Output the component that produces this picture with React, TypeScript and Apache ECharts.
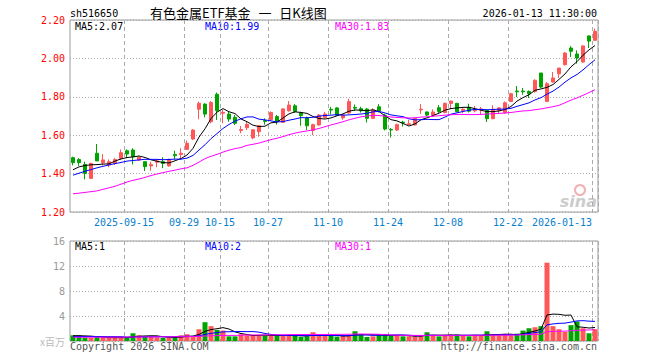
import React, { useEffect, useRef } from 'react';
import * as echarts from 'echarts';

// ---------- categories (trading days) ----------
const sep25 = ['02','03','04','05','08','09','10','11','12','15','16','17','18','19','22','23','24','25','26','29','30'];
const oct25 = ['09','10','13','14','15','16','17','20','21','22','23','24','27','28','29','30','31'];
const nov25 = ['03','04','05','06','07','10','11','12','13','14','17','18','19','20','21','24','25','26','27','28'];
const dec25 = ['01','02','03','04','05','08','09','10','11','12','15','16','17','18','19','22','23','24','25','26','29','30','31'];
const jan26 = ['05','06','07','08','09','12','13'];
const dates: string[] = [
  ...sep25.map((d) => '2025-09-' + d),
  ...oct25.map((d) => '2025-10-' + d),
  ...nov25.map((d) => '2025-11-' + d),
  ...dec25.map((d) => '2025-12-' + d),
  ...jan26.map((d) => '2026-01-' + d),
];

// ---------- tick labels ----------
const tickDates = ['2025-09-15','2025-09-29','2025-10-15','2025-10-27','2025-11-10','2025-11-24','2025-12-08','2025-12-22','2026-01-13'];
const tickLabels = ['2025-09-15','09-29','10-15','10-27','11-10','11-24','12-08','12-22','2026-01-13'];
const priceTicks = [1.2, 1.4, 1.6, 1.8, 2.0, 2.2];
const volTicks = [0, 4, 8, 12, 16];

// ---------- candles ----------
const opens = [
  1.483,1.473,1.448,1.375,1.506,1.457,1.445,1.453,1.480,1.519,
  1.523,1.471,1.462,1.440,1.459,1.462,1.440,1.500,1.499,1.526,
  1.580,1.735,1.762,1.670,1.813,1.714,1.710,1.693,1.625,1.639,
  1.586,1.618,1.676,1.681,1.697,1.667,1.727,1.753,1.716,1.690,
  1.625,1.653,1.692,1.735,1.742,1.690,1.716,1.745,1.738,1.736,
  1.688,1.748,1.704,1.630,1.627,1.668,1.656,1.653,1.732,1.721,
  1.705,1.743,1.718,1.765,1.766,1.728,1.745,1.727,1.733,1.729,
  1.686,1.729,1.717,1.776,1.830,1.830,1.828,1.828,1.924,1.776,
  1.877,1.920,1.967,2.054,2.023,1.981,2.117,2.094,
];
const closes = [
  1.457,1.457,1.401,1.453,1.466,1.471,1.462,1.474,1.509,1.502,
  1.488,1.485,1.436,1.448,1.466,1.453,1.474,1.493,1.506,1.558,
  1.627,1.766,1.710,1.770,1.728,1.719,1.684,1.662,1.630,1.656,
  1.628,1.649,1.672,1.718,1.672,1.737,1.757,1.724,1.702,1.649,
  1.655,1.705,1.710,1.731,1.704,1.705,1.775,1.741,1.727,1.688,
  1.731,1.727,1.632,1.627,1.655,1.664,1.660,1.688,1.736,1.705,
  1.721,1.724,1.766,1.778,1.722,1.735,1.725,1.731,1.737,1.686,
  1.735,1.742,1.769,1.816,1.826,1.826,1.816,1.886,1.851,1.868,
  1.898,1.950,2.028,2.037,2.002,2.065,2.090,2.141,
];
const lows = [
  1.443,1.440,1.370,1.372,1.466,1.443,1.433,1.445,1.471,1.480,
  1.448,1.467,1.413,1.415,1.433,1.428,1.436,1.474,1.474,1.523,
  1.575,1.683,1.693,1.662,1.679,1.662,1.670,1.653,1.610,1.627,
  1.579,1.592,1.655,1.676,1.655,1.664,1.723,1.717,1.649,1.627,
  1.600,1.650,1.688,1.708,1.700,1.680,1.711,1.727,1.718,1.666,
  1.684,1.718,1.625,1.588,1.622,1.645,1.653,1.652,1.710,1.700,
  1.697,1.716,1.714,1.736,1.720,1.715,1.718,1.719,1.707,1.669,
  1.683,1.712,1.712,1.773,1.799,1.811,1.794,1.821,1.846,1.773,
  1.874,1.898,1.964,2.007,1.973,1.978,2.054,2.094,
];
const highs = [
  1.488,1.480,1.462,1.457,1.554,1.502,1.474,1.480,1.526,1.526,
  1.532,1.488,1.462,1.462,1.474,1.485,1.478,1.519,1.532,1.572,
  1.631,1.775,1.766,1.778,1.822,1.731,1.723,1.705,1.648,1.670,
  1.631,1.653,1.688,1.724,1.705,1.740,1.778,1.762,1.722,1.697,
  1.660,1.710,1.722,1.748,1.746,1.710,1.790,1.760,1.748,1.742,
  1.740,1.762,1.712,1.637,1.660,1.675,1.680,1.690,1.762,1.724,
  1.735,1.757,1.770,1.779,1.768,1.740,1.764,1.752,1.747,1.734,
  1.756,1.747,1.776,1.821,1.856,1.846,1.833,1.891,1.924,1.877,
  1.929,1.950,2.033,2.064,2.042,2.068,2.120,2.155,
];

// ---------- volume (x 百万) ----------
const volumes = [
  0.91,0.91,0.54,0.48,0.65,0.54,0.48,0.54,0.48,0.65,
  1.24,0.91,0.75,0.65,0.59,0.48,0.54,0.59,0.91,1.08,
  0.81,1.88,3.01,2.37,1.77,1.67,0.75,0.75,1.08,0.91,
  0.91,0.91,0.91,0.86,0.86,0.86,0.91,0.86,0.65,0.75,
  1.40,0.86,0.81,0.81,0.70,0.81,1.02,1.56,1.02,0.65,
  0.75,1.08,1.13,0.81,0.81,0.75,0.75,0.75,0.91,1.40,
  0.86,0.75,0.81,1.02,1.08,0.86,0.75,0.91,0.91,1.56,
  0.91,0.91,1.13,0.91,1.18,1.67,2.04,2.20,2.37,12.53,
  2.37,1.88,1.45,2.53,3.12,2.04,1.24,1.88,
];

// ---------- moving-average values before enough history ----------
const ma5Head = [1.420, 1.435, 1.442, 1.446];
const ma10Head = [1.392, 1.402, 1.412, 1.421, 1.430, 1.438, 1.445, 1.452, 1.458];
const ma30Head = [
  1.295,1.298,1.302,1.306,1.310,1.318,1.326,1.334,1.345,1.356,
  1.365,1.372,1.380,1.390,1.398,1.405,1.412,1.418,1.425,1.430,
  1.443,1.460,1.478,1.490,1.500,1.512,1.522,1.530,1.536,
];
const volMa5Head = [0.85, 0.85, 0.82, 0.78];
const volMa10Head = [0.72, 0.72, 0.72, 0.72, 0.72, 0.70, 0.70, 0.70, 0.70];
const volMa30Head = [
  0.60,0.60,0.60,0.60,0.60,0.61,0.61,0.62,0.62,0.63,
  0.64,0.65,0.65,0.66,0.66,0.67,0.67,0.68,0.69,0.70,
  0.72,0.75,0.80,0.84,0.87,0.89,0.90,0.90,0.91,
];

// ---------- texts ----------
const symbolText = 'sh516650';
const titleParts = ['有色金属ETF基金', '一', '日K线图'];
const timeText = '2026-01-13 11:30:00';
const priceLegend = ['MA5:2.07', 'MA10:1.99', 'MA30:1.83'];
const volLegend = ['MA5:1', 'MA10:2', 'MA30:1'];
const legendX = [75, 205, 335];
const maColors = ['#000000', '#0000ff', '#ff00ff'];

const RED = '#ff5757';
const GREEN = '#00a300';
const MONO = '"DejaVu Sans Mono", "Liberation Mono", monospace';
const CJK = '"Noto Sans CJK SC", sans-serif';

function movingAverage(values: number[], n: number, head: number[]): number[] {
  return values.map((_, i) => {
    if (i < n - 1) return head[i];
    let s = 0;
    for (let k = i - n + 1; k <= i; k++) s += values[k];
    return +(s / n).toFixed(4);
  });
}

export default function App() {
  const ref = useRef<HTMLDivElement>(null);

  useEffect(() => {
    document.body.style.margin = '0';
    const chart = echarts.init(ref.current!, undefined, { renderer: 'svg' });

    const tickIdx = tickDates.map((d) => dates.indexOf(d));
    const lastTick = tickIdx[tickIdx.length - 1];
    const isTick = (i: number) => tickIdx.includes(i);

    const candleData = dates.map((_, i) => [opens[i], closes[i], lows[i], highs[i]]);
    const ma5 = movingAverage(closes, 5, ma5Head);
    const ma10 = movingAverage(closes, 10, ma10Head);
    const ma30 = movingAverage(closes, 30, ma30Head);
    const vma5 = movingAverage(volumes, 5, volMa5Head);
    const vma10 = movingAverage(volumes, 10, volMa10Head);
    const vma30 = movingAverage(volumes, 30, volMa30Head);

    const volData = volumes.map((v, i) => ({
      value: v,
      itemStyle: { color: closes[i] >= opens[i] ? RED : GREEN },
    }));

    const splitV = {
      show: true,
      interval: (i: number) => isTick(i),
      lineStyle: { color: '#aaaaaa', type: [4, 3], width: 1 },
    };
    const splitH = { show: true, lineStyle: { color: '#aaaaaa', type: [1, 2], width: 1 } };

    const lineSeries = (data: number[], color: string, xi: number) => ({
      type: 'line',
      xAxisIndex: xi,
      yAxisIndex: xi,
      data,
      symbol: 'none',
      showSymbol: false,
      silent: true,
      lineStyle: { color, width: 1 },
      z: 5,
    });

    const textEl = (text: string, x: number, y: number, fill: string, align = 'left', extra: any = {}) => ({
      type: 'text',
      x,
      y,
      silent: true,
      style: {
        text,
        fill,
        align,
        verticalAlign: 'middle',
        fontSize: 10,
        fontFamily: MONO,
        ...extra,
      },
    });

    const option: any = {
      animation: false,
      backgroundColor: '#ffffff',
      grid: [
        { left: 70, top: 20, width: 528, height: 192, show: true, borderColor: '#9a9a9a', borderWidth: 1 },
        { left: 70, top: 241, width: 528, height: 100, show: true, borderColor: '#9a9a9a', borderWidth: 1 },
      ],
      xAxis: [
        {
          type: 'category',
          gridIndex: 0,
          data: dates,
          boundaryGap: true,
          axisLine: { show: false },
          axisTick: { show: false },
          axisLabel: {
            interval: (i: number) => isTick(i),
            margin: 5,
            color: '#0a80cc',
            fontSize: 10,
            fontFamily: MONO,
            formatter: (v: string, i: number) => {
              const k = tickDates.indexOf(v);
              if (k < 0) return '';
              return i === lastTick ? `{e|${tickLabels[k]}}` : `{a|${tickLabels[k]}}`;
            },
            rich: {
              a: { padding: [0, 6, 0, 0], color: '#0a80cc', fontSize: 10, fontFamily: MONO },
              e: { padding: [0, 66, 0, 0], color: '#0a80cc', fontSize: 10, fontFamily: MONO },
            },
          },
          splitLine: splitV,
        },
        {
          type: 'category',
          gridIndex: 1,
          data: dates,
          boundaryGap: true,
          axisLine: { show: false },
          axisTick: { show: false },
          axisLabel: { show: false },
          splitLine: splitV,
        },
      ],
      yAxis: [
        {
          type: 'value',
          gridIndex: 0,
          min: priceTicks[0],
          max: priceTicks[priceTicks.length - 1],
          interval: 0.2,
          axisLine: { show: false },
          axisTick: { show: false },
          axisLabel: {
            color: '#ff0000',
            fontSize: 10,
            fontFamily: MONO,
            margin: 5,
            formatter: (v: number) => v.toFixed(2),
          },
          splitLine: splitH,
        },
        {
          type: 'value',
          gridIndex: 1,
          min: volTicks[0],
          max: volTicks[volTicks.length - 1],
          interval: 4,
          axisLine: { show: false },
          axisTick: { show: false },
          axisLabel: {
            color: '#999999',
            fontSize: 10,
            fontFamily: MONO,
            margin: 5,
            formatter: (v: number) => (v === 0 ? '{u|x百万}' : String(v)),
            rich: {
              u: { color: '#bbbbbb', fontSize: 10, fontFamily: CJK },
            },
          },
          splitLine: splitH,
        },
      ],
      series: [
        {
          type: 'candlestick',
          xAxisIndex: 0,
          yAxisIndex: 0,
          data: candleData,
          barWidth: 4,
          silent: true,
          itemStyle: {
            color: RED,
            color0: GREEN,
            borderColor: RED,
            borderColor0: GREEN,
            borderWidth: 1,
          },
        },
        lineSeries(ma5, maColors[0], 0),
        lineSeries(ma10, maColors[1], 0),
        lineSeries(ma30, maColors[2], 0),
        {
          type: 'bar',
          xAxisIndex: 1,
          yAxisIndex: 1,
          data: volData,
          barWidth: 5,
          silent: true,
        },
        lineSeries(vma5, maColors[0], 1),
        lineSeries(vma10, maColors[1], 1),
        lineSeries(vma30, maColors[2], 1),
      ],
      graphic: [
        textEl(symbolText, 70, 13, '#000000'),
        {
          type: 'text',
          x: 150,
          y: 12.5,
          silent: true,
          style: {
            text: `{c|${titleParts[0]}}{s| }{c|${titleParts[1]}}{s| }{c|${titleParts[2]}}`,
            align: 'left',
            verticalAlign: 'middle',
            rich: {
              c: { fontSize: 13, fontFamily: CJK, fill: '#000000', color: '#000000' },
              s: { fontSize: 13, fontFamily: MONO, fill: '#000000', color: '#000000' },
            },
          },
        },
        textEl(timeText, 597, 13, '#000000', 'right'),
        ...priceLegend.map((t, k) => textEl(t, legendX[k], 26.5, maColors[k])),
        ...volLegend.map((t, k) => textEl(t, legendX[k], 246.5, maColors[k])),
        textEl('Copyright 2026 SINA.COM', 70, 346, '#555555'),
        textEl('http://finance.sina.com.cn', 597, 346, '#555555', 'right'),
        {
          type: 'circle',
          silent: true,
          shape: { cx: 580, cy: 190, r: 5 },
          style: { fill: 'none', stroke: '#f3b0b0', lineWidth: 2 },
        },
        textEl('sina', 597, 201, '#cccccc', 'right', {
          fontSize: 16,
          fontWeight: 'bold',
          fontStyle: 'italic',
          fontFamily: '"DejaVu Sans", sans-serif',
        }),
      ],
    };

    chart.setOption(option);
    return () => chart.dispose();
  }, []);

  return (
    <div
      ref={ref}
      style={{ position: 'absolute', left: 0, top: 0, width: 660, height: 360 }}
    />
  );
}
